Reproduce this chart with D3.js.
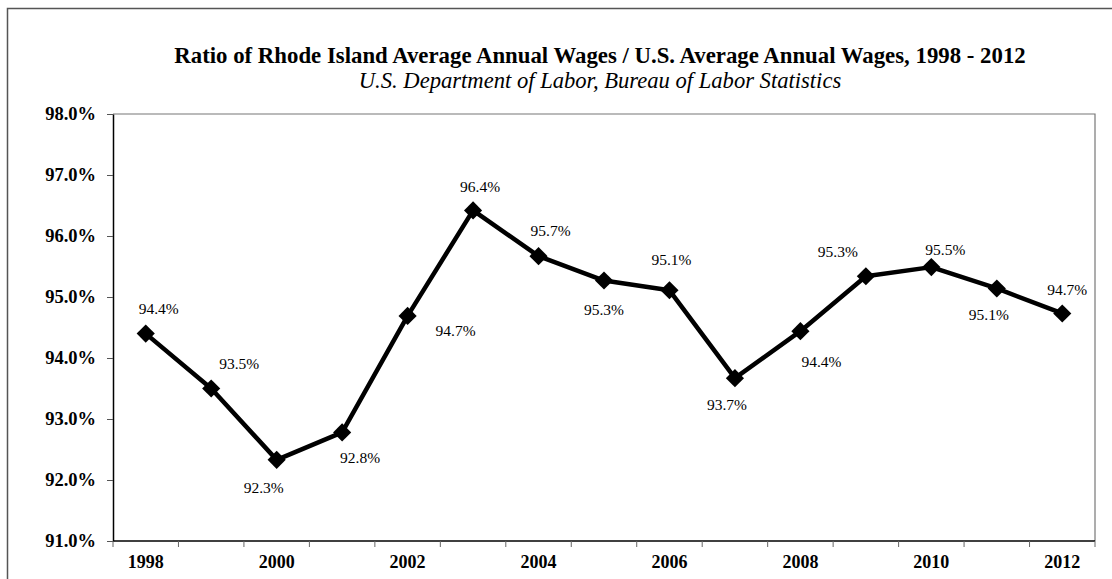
<!DOCTYPE html>
<html>
<head>
<meta charset="utf-8">
<script src="https://cdn.jsdelivr.net/npm/d3@7"></script>
<style>
  html, body { margin: 0; padding: 0; background: #fff; }
  svg { display: block; }
  text { font-family: "Liberation Serif", "Times New Roman", serif; fill: #000; }
</style>
</head>
<body>
<svg id="chart" width="1112" height="579"></svg>
<script>
// Ratio of Rhode Island to U.S. average annual wages
const years = ["1998","1999","2000","2001","2002","2003","2004","2005",
               "2006","2007","2008","2009","2010","2011","2012"];
const ratio = [0.9440, 0.9350, 0.9233, 0.9278, 0.9469, 0.9642, 0.9567, 0.9527,
               0.9511, 0.9367, 0.9444, 0.9534, 0.9549, 0.9514, 0.9473];
const yTicks = [0.91, 0.92, 0.93, 0.94, 0.95, 0.96, 0.97, 0.98];
const yearLabels = ["1998","2000","2002","2004","2006","2008","2010","2012"];

const titleText = "Ratio of Rhode Island Average Annual Wages / U.S. Average Annual Wages, 1998 - 2012";
const subtitleText = "U.S. Department of Labor, Bureau of Labor Statistics";

// where each value label sits relative to its point (px)
const labelOffset = [[13,-25],[28,-25],[-13,28],[18,26],[48,15],[7,-23],[12,-25],[0,29],
                     [2,-30],[-8,27],[21,31],[-28,-24],[14,-17],[-8,27],[5,-23]];

const svg = d3.select("#chart");
const plot = { left: 113, right: 1095, top: 114, bottom: 541 };

// outer frame
svg.append("rect")
  .attr("x", 7.5).attr("y", 8.5).attr("width", 1200).attr("height", 700)
  .attr("fill", "none").attr("stroke", "#555").attr("stroke-width", 1.5);

// titles
svg.append("text").attr("x", 600).attr("y", 63)
  .attr("text-anchor", "middle").attr("font-weight", "bold").attr("font-size", 22.8)
  .text(titleText);
svg.append("text").attr("x", 600).attr("y", 88)
  .attr("text-anchor", "middle").attr("font-style", "italic").attr("font-size", 22.6)
  .text(subtitleText);

const x = d3.scaleBand().domain(years).range([plot.left, plot.right]);
const y = d3.scaleLinear().domain([0.91, 0.98]).range([plot.bottom, plot.top]);

// plot frame: top and right edges
svg.append("path")
  .attr("d", `M${plot.left},${plot.top}H${plot.right}V${plot.bottom}`)
  .attr("fill", "none").attr("stroke", "#777").attr("stroke-width", 1.2);

// y axis
const yAxis = svg.append("g")
  .attr("transform", `translate(${plot.left},0)`)
  .call(d3.axisLeft(y).tickValues(yTicks).tickFormat(d3.format(".1%"))
        .tickSizeInner(6).tickSizeOuter(0).tickPadding(11));
yAxis.select(".domain").attr("stroke", "#000").attr("stroke-width", 1.5);
yAxis.selectAll(".tick line").attr("stroke", "#555");
yAxis.selectAll(".tick text")
  .attr("font-family", "Liberation Serif, serif").attr("font-weight", "bold")
  .attr("font-size", 18.5).attr("fill", "#000");

// x axis: tick marks on category boundaries, labels every other year
const xAxis = svg.append("g");
xAxis.append("line")
  .attr("x1", plot.left).attr("x2", plot.right)
  .attr("y1", plot.bottom).attr("y2", plot.bottom)
  .attr("stroke", "#000").attr("stroke-width", 1.5);
const bounds = years.map(d => x(d)).concat([x(years[years.length - 1]) + x.bandwidth()]);
xAxis.selectAll("line.tick").data(bounds).join("line")
  .attr("class", "tick")
  .attr("x1", d => d).attr("x2", d => d)
  .attr("y1", plot.bottom).attr("y2", plot.bottom + 6)
  .attr("stroke", "#666").attr("stroke-width", 1);
xAxis.selectAll("text").data(yearLabels).join("text")
  .attr("x", d => x(d) + x.bandwidth() / 2)
  .attr("y", plot.bottom + 27)
  .attr("text-anchor", "middle").attr("font-weight", "bold").attr("font-size", 18)
  .text(d => d);

// series line
const pts = years.map((d, i) => ({ year: d, v: ratio[i], off: labelOffset[i] }));
svg.append("path")
  .datum(pts)
  .attr("fill", "none").attr("stroke", "#000").attr("stroke-width", 4.5)
  .attr("stroke-linejoin", "round")
  .attr("d", d3.line().x(d => x(d.year) + x.bandwidth() / 2).y(d => y(d.v)));

// diamond markers (squares turned 45 degrees)
svg.selectAll("path.marker").data(pts).join("path")
  .attr("class", "marker")
  .attr("d", d3.symbol().type(d3.symbolSquare).size(165))
  .attr("transform", d => `translate(${x(d.year) + x.bandwidth() / 2},${y(d.v)}) rotate(45)`)
  .attr("fill", "#000");

// value labels
const fmt = d3.format(".1%");
svg.selectAll("text.val").data(pts).join("text")
  .attr("class", "val")
  .attr("x", d => x(d.year) + x.bandwidth() / 2 + d.off[0])
  .attr("y", d => y(d.v) + d.off[1] + 5)
  .attr("text-anchor", "middle").attr("font-size", 15.5)
  .text(d => fmt(d.v));
</script>
</body>
</html>
